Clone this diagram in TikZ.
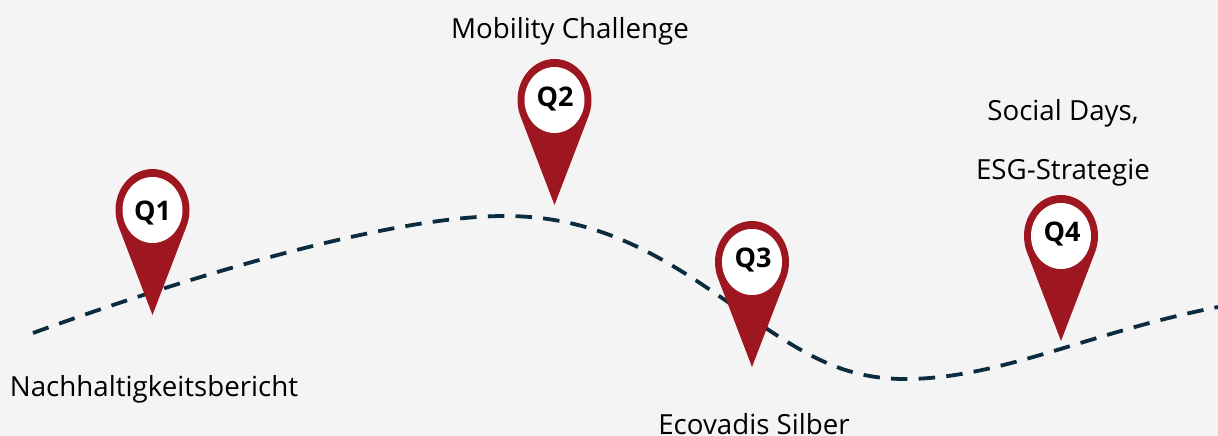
\documentclass[tikz,border=0pt]{standalone}
\usepackage{fontspec}
\setmainfont{Open Sans}
\definecolor{pinred}{HTML}{9E161F}
\definecolor{roadblue}{HTML}{0B2B3F}
\definecolor{bgc}{HTML}{F4F4F4}
\tikzset{
  x=1pt,y=-1pt,
  lbl/.style={font=\fontsize{27.7}{32}\selectfont,text=black,inner sep=0pt,anchor=center},
  qlbl/.style={font=\fontsize{27}{32}\selectfont\bfseries,text=black,inner sep=0pt,anchor=center},
  road/.style={draw=roadblue,line width=3.8pt,dash pattern=on 16.5pt off 11.2pt},
  pin/.pic={
    \fill[pinred] (0,105) -- (-34.5,15) .. controls (-36.2,10) and (-37,5) .. (-37,0)
      .. controls (-37,-22.6) and (-20.4,-41) .. (0,-41)
      .. controls (20.4,-41) and (37,-22.6) .. (37,0)
      .. controls (37,5) and (36.2,10) .. (34.5,15) -- cycle;
    \fill[white] (0,0) ellipse [x radius=30, y radius=33];
  }
}
\begin{document}
\begin{tikzpicture}
\useasboundingbox (0,0) rectangle (1218,436);
\fill[bgc] (0,0) rectangle (1218,436);
\coordinate (roadstart) at (33,333);
\coordinate (roadcrest) at (505,216);
\coordinate (roadmid) at (735,307);
\coordinate (roadlow) at (905,379);
\coordinate (roadend) at (1218,307);
\draw[road] (roadstart) .. controls (190,276) and (390,216) .. (roadcrest)
  .. controls (600,216) and (665,258) .. (roadmid)
  .. controls (800,352) and (840,379) .. (roadlow)
  .. controls (1000,379) and (1090,332) .. (roadend);
\pic at (152.5,210) {pin};
\pic at (554.5,100) {pin};
\pic at (752,262) {pin};
\pic at (1061,236) {pin};
\node[qlbl] (q1) at (152.5,213) {Q1};
\node[qlbl] (q2) at (555,99) {Q2};
\node[qlbl] (q3) at (753,260) {Q3};
\node[qlbl] (q4) at (1062,234) {Q4};
\node[lbl] (t1) at (154,389) {Nachhaltigkeitsbericht};
\node[lbl] (t2) at (570,31) {Mobility Challenge};
\node[lbl] (t3) at (754,424) {Ecovadis Silber};
\node[lbl] (t4) at (1063,113) {Social Days,};
\node[lbl] (t5) at (1063,173) {ESG-Strategie};
\end{tikzpicture}
\end{document}
